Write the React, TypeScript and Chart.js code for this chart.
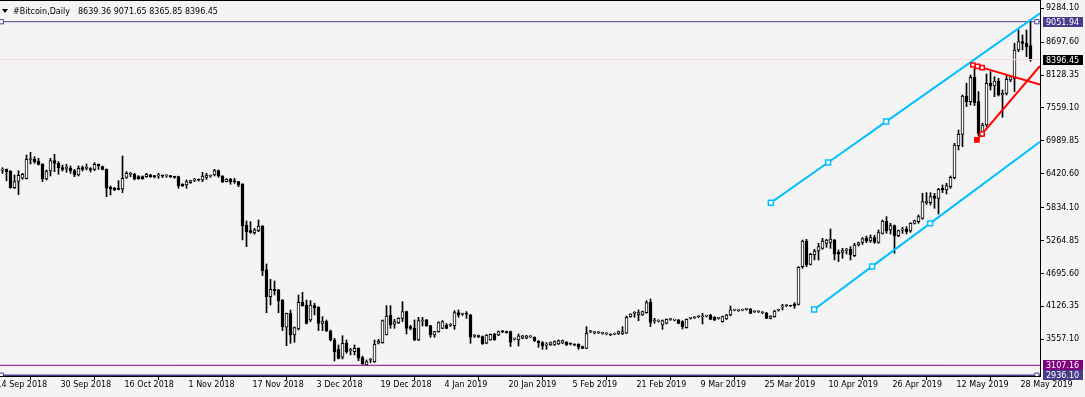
import React, { useEffect, useRef } from 'react';
import { Chart, registerables } from 'chart.js';

Chart.register(...registerables);

const FONT = "'DejaVu Sans', Verdana, sans-serif";
const FONT_SIZE = 8;

// ---- header ----
const symbolTitle = '#Bitcoin,Daily';
const lastOHLC = ['8639.36', '9071.65', '8365.85', '8396.45'];

// ---- daily candles, 14 Sep 2018 (index 0) .. 30 May 2019 (index 258) ----
const opens = [
  6470, 6485, 6498, 6469, 6181, 6290, 6345, 6335, 6668, 6677,
  6642, 6590, 6331, 6469, 6648, 6602, 6527, 6514, 6516, 6475,
  6400, 6527, 6514, 6510, 6498, 6585, 6544, 6498, 6187, 6170,
  6170, 6160, 6360, 6412, 6412, 6371, 6371, 6371, 6400, 6373,
  6385, 6385, 6385, 6373, 6362, 6371, 6239, 6227, 6267, 6312,
  6316, 6314, 6360, 6383, 6400, 6475, 6383, 6285, 6325, 6287,
  6285, 6244, 5535, 5437, 5403, 5437, 5518, 4757, 4295, 4422,
  4411, 4237, 3765, 4007, 3632, 3736, 4197, 4151, 3891, 4139,
  4111, 3834, 3863, 3701, 3545, 3384, 3246, 3488, 3361, 3344,
  3401, 3240, 3113, 3195, 3171, 3488, 3500, 3632, 3978, 3817,
  3846, 3920, 4036, 3776, 3747, 3546, 3878, 3892, 3794, 3632,
  3690, 3747, 3805, 3800, 3794, 4018, 3990, 3995, 3978, 3610,
  3605, 3603, 3488, 3546, 3649, 3632, 3690, 3690, 3690, 3560,
  3546, 3575, 3575, 3600, 3592, 3528, 3500, 3457, 3459, 3459,
  3476, 3488, 3505, 3478, 3462, 3471, 3430, 3401, 3688, 3672,
  3670, 3660, 3650, 3634, 3648, 3649, 3649, 3661, 3949, 4005,
  3978, 3978, 4018, 4197, 3878, 3872, 3805, 3834, 3900, 3890,
  3892, 3863, 3759, 3918, 3930, 3947, 3947, 3958, 3978, 3938,
  3918, 3863, 3909, 3978, 4062, 4053, 4063, 4074, 4082, 4034,
  4034, 4016, 4007, 3920, 3949, 4060, 4118, 4137, 4135, 4168,
  4162, 4814, 5258, 4854, 5016, 5085, 5131, 5218, 5235, 5275,
  5062, 5062, 5100, 5114, 5004, 5189, 5235, 5304, 5258, 5316,
  5235, 5391, 5604, 5448, 5523, 5350, 5446, 5466, 5431, 5564,
  5593, 5650, 5921, 5921, 6037, 5996, 6169, 6141, 6198, 6354,
  6902, 7104, 7767, 7669, 8090, 7669, 7121, 7265, 7986, 7940,
  8026, 7784, 7813, 8044, 8072, 8563, 8707, 8678, 8639.36,
];
const highs = [
  6540, 6527, 6505, 6475, 6400, 6475, 6429, 6746, 6792, 6717,
  6688, 6595, 6487, 6688, 6758, 6631, 6573, 6585, 6556, 6498,
  6556, 6556, 6590, 6527, 6614, 6590, 6556, 6505, 6210, 6187,
  6302, 6729, 6458, 6446, 6429, 6390, 6385, 6429, 6412, 6390,
  6429, 6400, 6405, 6390, 6380, 6380, 6250, 6314, 6310, 6342,
  6330, 6446, 6429, 6400, 6498, 6487, 6390, 6337, 6342, 6342,
  6290, 6250, 5604, 5593, 5477, 5622, 5525, 4860, 4595, 4566,
  4420, 4245, 4010, 4064, 3770, 4324, 4370, 4237, 4226, 4180,
  4122, 3949, 3891, 3718, 3574, 3459, 3620, 3545, 3401, 3459,
  3410, 3265, 3200, 3228, 3546, 3557, 3892, 4140, 4140, 3903,
  3930, 4209, 4045, 3800, 3892, 3938, 3938, 3900, 3800, 3695,
  3860, 3880, 3830, 3830, 4053, 4065, 4010, 4036, 3990, 3640,
  3630, 3615, 3640, 3650, 3660, 3700, 3710, 3700, 3700, 3580,
  3649, 3625, 3625, 3620, 3600, 3535, 3517, 3500, 3510, 3530,
  3545, 3545, 3520, 3495, 3480, 3480, 3440, 3776, 3710, 3690,
  3690, 3680, 3670, 3650, 3665, 3700, 3776, 3961, 4000, 4036,
  4065, 4045, 4226, 4255, 3920, 3895, 3892, 3910, 3920, 3905,
  3900, 3880, 3910, 3935, 3950, 3965, 4007, 3975, 3990, 3950,
  3935, 3960, 3990, 4134, 4080, 4070, 4080, 4090, 4090, 4050,
  4050, 4035, 4025, 3965, 4060, 4080, 4163, 4160, 4145, 4191,
  4815, 5275, 5287, 5045, 5114, 5218, 5304, 5287, 5466, 5287,
  5102, 5131, 5131, 5160, 5218, 5240, 5316, 5345, 5362, 5356,
  5448, 5622, 5679, 5564, 5535, 5448, 5494, 5506, 5575, 5620,
  5708, 6083, 6095, 6095, 6083, 6169, 6227, 6256, 6383, 6948,
  7178, 7784, 7986, 8130, 8245, 7842, 7294, 8147, 8188, 8101,
  8072, 7871, 8130, 8113, 8678, 8909, 8822, 8909, 9071.65,
];
const lows = [
  6400, 6429, 6302, 6170, 6165, 6060, 6325, 6330, 6590, 6602,
  6573, 6285, 6314, 6383, 6458, 6412, 6469, 6446, 6429, 6371,
  6383, 6469, 6487, 6452, 6475, 6498, 6487, 6025, 6054, 6129,
  6141, 6095, 6342, 6371, 6314, 6325, 6325, 6360, 6360, 6350,
  6342, 6355, 6360, 6355, 6345, 6170, 6200, 6170, 6255, 6285,
  6295, 6285, 6325, 6360, 6383, 6360, 6267, 6280, 6239, 6256,
  6198, 5276, 5160, 5391, 5374, 5420, 4659, 4018, 4151, 4324,
  4018, 3707, 3447, 3488, 3505, 3718, 4130, 3822, 3863, 3978,
  3707, 3707, 3690, 3528, 3182, 3217, 3217, 3315, 3286, 3286,
  3188, 3120, 3107.16, 3153, 3159, 3476, 3488, 3632, 3747, 3747,
  3830, 3863, 3649, 3720, 3534, 3534, 3788, 3780, 3592, 3592,
  3680, 3740, 3740, 3780, 3730, 3938, 3970, 3920, 3488, 3590,
  3585, 3470, 3480, 3540, 3540, 3620, 3670, 3665, 3430, 3545,
  3442, 3565, 3565, 3585, 3520, 3419, 3384, 3384, 3450, 3450,
  3465, 3480, 3450, 3460, 3445, 3384, 3395, 3395, 3670, 3650,
  3655, 3645, 3635, 3620, 3635, 3640, 3640, 3655, 3940, 3938,
  3880, 3970, 4007, 3776, 3834, 3855, 3730, 3825, 3885, 3875,
  3825, 3736, 3750, 3905, 3915, 3930, 3822, 3945, 3895, 3880,
  3905, 3855, 3900, 3961, 4050, 4040, 4050, 4060, 4000, 4020,
  4020, 4000, 3915, 3910, 3940, 4045, 4065, 4120, 4125, 4093,
  4150, 4785, 4814, 4843, 4929, 4929, 5114, 5149, 5131, 4929,
  4901, 4958, 5034, 4929, 4987, 5170, 5200, 5229, 5235, 5218,
  5218, 5379, 5391, 5379, 5045, 5333, 5391, 5379, 5408, 5550,
  5564, 5633, 5892, 5881, 5823, 5725, 6095, 6071, 6169, 6331,
  6833, 6890, 7582, 7611, 7600, 7075, 7063, 7236, 7871, 7755,
  7767, 7398, 7784, 8015, 7842, 8533, 8563, 8447, 8365.85,
];
const closes = [
  6490, 6490, 6458, 6181, 6285, 6395, 6410, 6671, 6672, 6631,
  6585, 6331, 6469, 6648, 6602, 6527, 6498, 6518, 6475, 6400,
  6516, 6498, 6518, 6487, 6585, 6556, 6498, 6170, 6158, 6147,
  6152, 6342, 6429, 6415, 6331, 6337, 6337, 6412, 6371, 6371,
  6389, 6381, 6389, 6371, 6360, 6210, 6210, 6285, 6302, 6316,
  6312, 6383, 6400, 6385, 6475, 6383, 6285, 6331, 6285, 6283,
  6227, 5518, 5420, 5408, 5449, 5518, 4745, 4295, 4422, 4393,
  4220, 3776, 4007, 3632, 3759, 4197, 4139, 3834, 4151, 4105,
  3834, 3874, 3701, 3545, 3344, 3228, 3488, 3344, 3363, 3401,
  3230, 3135, 3171, 3200, 3471, 3528, 3880, 3961, 3805, 3863,
  3920, 4036, 3747, 3747, 3546, 3880, 3882, 3794, 3632, 3690,
  3846, 3863, 3747, 3805, 4018, 3978, 3995, 3990, 3592, 3615,
  3603, 3476, 3632, 3644, 3546, 3690, 3688, 3672, 3505, 3563,
  3615, 3615, 3615, 3603, 3528, 3500, 3442, 3459, 3500, 3517,
  3534, 3534, 3459, 3476, 3459, 3419, 3401, 3661, 3692, 3674,
  3672, 3662, 3652, 3632, 3650, 3690, 3690, 3938, 3995, 4008,
  4018, 4036, 4192, 3851, 3882, 3876, 3880, 3903, 3905, 3894,
  3834, 3776, 3903, 3922, 3934, 3950, 3951, 3962, 3903, 3892,
  3922, 3949, 3978, 4065, 4066, 4056, 4066, 4078, 4007, 4037,
  4037, 4020, 3920, 3961, 4047, 4065, 4122, 4140, 4134, 4134,
  4802, 5258, 4843, 5028, 5085, 5160, 5258, 5275, 5293, 5028,
  5028, 5102, 5104, 5016, 5189, 5229, 5298, 5258, 5316, 5235,
  5402, 5604, 5431, 5523, 5345, 5437, 5450, 5420, 5564, 5610,
  5679, 5939, 5950, 6025, 5996, 6152, 6141, 6215, 6360, 6919,
  7104, 7767, 7669, 8090, 7651, 7121, 7265, 7986, 7940, 8026,
  7784, 7813, 8055, 8101, 8563, 8707, 8678, 8620, 8396.45,
];

// ---- axes ----
const xMin = 0.375;
const xMax = 260.375;
const xTickDays = [0, 16, 32, 48, 64, 80, 96, 112, 128, 144, 160, 176, 192, 208, 224, 240, 256];
const xTickLabels = [
  '14 Sep 2018', '30 Sep 2018', '16 Oct 2018', '1 Nov 2018', '17 Nov 2018', '3 Dec 2018',
  '19 Dec 2018', '4 Jan 2019', '20 Jan 2019', '5 Feb 2019', '21 Feb 2019', '9 Mar 2019',
  '25 Mar 2019', '10 Apr 2019', '26 Apr 2019', '12 May 2019', '28 May 2019',
];
const yMin = 2922.1;
const yMax = 9427.7;
const yTickValues = [9284.1, 8697.6, 8128.35, 7559.1, 6989.85, 6420.6, 5834.1, 5264.85, 4695.6, 4126.35, 3557.1];

// ---- drawn objects ----
const levelTop = 9051.94;
const levelBottom = 2936.1;
const levelSupport = 3107.16;
const bidPrice = 8396.45;
const levelMarkerDays = [0.7, 259.6];

const upperChannelDays = [193.1, 207.4, 221.9, 260.375];
const upperChannelPrices = [5921, 6617, 7324, 9197];
const lowerChannelDays = [203.9, 218.4, 232.9, 260.375];
const lowerChannelPrices = [4073, 4818, 5563, 6976];
const redFallDays = [243.6, 244.75, 245.9, 260.375];
const redFallPrices = [8303, 8280, 8257, 7966];
const redRiseDays = [244.6, 245.9, 260.375];
const redRisePrices = [7006, 7111, 8286];

const boxValues = [9051.94, 8396.45, 3107.16, 2936.1];
const boxColors = ['#483D8B', '#000000', '#800080', '#483D8B'];

const BG = '#F4F4F4';

export default function App() {
  const ref = useRef<HTMLCanvasElement>(null);

  useEffect(() => {
    const canvas = ref.current;
    if (!canvas) return;

    const wickData = closes.map((_, i) => ({ x: i, y: [lows[i], highs[i]] }));
    const bodyData = closes.map((c, i) => ({ x: i, y: [opens[i], c] }));
    const bodyColors = closes.map((c, i) => (c >= opens[i] ? '#FFFFFF' : '#000000'));
    const pts = (days: number[], prices: number[]) => days.map((d, k) => ({ x: d, y: prices[k] }));
    const flat = (value: number, markers: number[]) =>
      [xMin, ...markers, xMax].map((d) => ({ x: d, y: value }));
    const flatRadius = (markers: number[]) => [0, ...markers.map(() => 3), 0];

    const lineBase = {
      type: 'line' as const,
      tension: 0,
      fill: false,
      pointStyle: 'rect' as const,
      pointHoverRadius: 0,
    };

    const bgPlugin = {
      id: 'bg',
      beforeDraw(chart: any) {
        const ctx = chart.ctx;
        ctx.save();
        ctx.fillStyle = BG;
        ctx.fillRect(0, 0, chart.width, chart.height);
        ctx.restore();
      },
    };

    const overlayPlugin = {
      id: 'overlay',
      afterDraw(chart: any) {
        const ctx = chart.ctx;
        const ys = chart.scales.y;
        const area = chart.chartArea;
        ctx.save();
        ctx.fillStyle = '#000000';
        ctx.fillRect(0, 0, area.right, 1);
        // title
        ctx.beginPath();
        ctx.moveTo(2, 9);
        ctx.lineTo(8, 9);
        ctx.lineTo(5, 13);
        ctx.closePath();
        ctx.fill();
        ctx.font = `${FONT_SIZE}px ${FONT}`;
        ctx.textAlign = 'left';
        ctx.textBaseline = 'alphabetic';
        ctx.fillText(symbolTitle, 13, 14);
        ctx.fillText(lastOHLC.join(' '), 78, 14);
        // price boxes on the right axis
        ctx.textBaseline = 'middle';
        boxValues.forEach((v, k) => {
          const py = Math.round(ys.getPixelForValue(v));
          ctx.fillStyle = boxColors[k];
          ctx.fillRect(area.right + 3, py - 5, 40, 10);
          ctx.fillStyle = '#FFFFFF';
          ctx.fillText(v.toFixed(2), area.right + 6, py + 0.5);
        });
        ctx.restore();
      },
    };

    const chart = new Chart(canvas, {
      type: 'bar',
      data: {
        datasets: [
          {
            type: 'bar',
            data: wickData as any,
            backgroundColor: '#000000',
            borderWidth: 0,
            barThickness: 1,
            grouped: false,
            order: 10,
          } as any,
          {
            type: 'bar',
            data: bodyData as any,
            backgroundColor: bodyColors,
            borderColor: '#000000',
            borderWidth: 1,
            borderSkipped: false,
            barThickness: 3,
            minBarLength: 1,
            grouped: false,
            order: 9,
          } as any,
          {
            ...lineBase,
            data: flat(bidPrice, []),
            borderColor: '#F2DCD6',
            borderWidth: 1,
            pointRadius: 0,
            order: 8,
          },
          {
            ...lineBase,
            data: flat(levelSupport, []),
            borderColor: '#800080',
            borderWidth: 1,
            pointRadius: 0,
            order: 3,
          },
          {
            ...lineBase,
            data: flat(levelTop, levelMarkerDays),
            borderColor: '#483D8B',
            borderWidth: 1,
            pointRadius: flatRadius(levelMarkerDays),
            pointBackgroundColor: '#FFFFFF',
            pointBorderColor: '#483D8B',
            pointBorderWidth: 1,
            order: 3,
          },
          {
            ...lineBase,
            data: flat(levelBottom, levelMarkerDays),
            borderColor: '#483D8B',
            borderWidth: 1.5,
            pointRadius: flatRadius(levelMarkerDays),
            pointBackgroundColor: '#FFFFFF',
            pointBorderColor: '#483D8B',
            pointBorderWidth: 1,
            order: 3,
          },
          {
            ...lineBase,
            data: pts(upperChannelDays, upperChannelPrices),
            borderColor: '#00BFFF',
            borderWidth: 2,
            pointRadius: [3.5, 3.5, 3.5, 0],
            pointBackgroundColor: '#FFFFFF',
            pointBorderColor: '#00BFFF',
            pointBorderWidth: 1.5,
            order: 2,
          },
          {
            ...lineBase,
            data: pts(lowerChannelDays, lowerChannelPrices),
            borderColor: '#00BFFF',
            borderWidth: 2,
            pointRadius: [3.5, 3.5, 3.5, 0],
            pointBackgroundColor: '#FFFFFF',
            pointBorderColor: '#00BFFF',
            pointBorderWidth: 1.5,
            order: 2,
          },
          {
            ...lineBase,
            data: pts(redFallDays, redFallPrices),
            borderColor: '#FF0000',
            borderWidth: 2,
            pointRadius: [3, 3, 3, 0],
            pointBackgroundColor: '#FFFFFF',
            pointBorderColor: '#FF0000',
            pointBorderWidth: 1.5,
            order: 1,
          },
          {
            ...lineBase,
            data: pts(redRiseDays, redRisePrices),
            borderColor: '#FF0000',
            borderWidth: 2,
            pointRadius: [3, 3, 0],
            pointBackgroundColor: ['#FF0000', '#FFFFFF', '#FFFFFF'],
            pointBorderColor: '#FF0000',
            pointBorderWidth: 1.5,
            order: 1,
          },
        ] as any,
      },
      options: {
        responsive: false,
        maintainAspectRatio: false,
        animation: false,
        devicePixelRatio: 1,
        events: [],
        layout: { padding: 0, autoPadding: false },
        plugins: {
          legend: { display: false },
          tooltip: { enabled: false },
          title: { display: false },
        },
        scales: {
          x: {
            type: 'linear',
            min: xMin,
            max: xMax,
            offset: false,
            grid: {
              display: true,
              drawOnChartArea: false,
              drawTicks: true,
              tickLength: 4,
              color: '#000000',
              lineWidth: 1,
            },
            border: { display: true, color: '#000000', width: 1 },
            ticks: {
              autoSkip: false,
              maxRotation: 0,
              minRotation: 0,
              align: 'start',
              padding: 0,
              labelOffset: -2,
              color: '#000000',
              font: { family: FONT, size: FONT_SIZE },
              callback: (_v: any, i: number) => xTickLabels[i] ?? '',
            },
            afterBuildTicks: (s: any) => {
              s.ticks = xTickDays.map((v) => ({ value: v }));
            },
            afterFit: (s: any) => {
              s.height = 21;
              s.paddingLeft = 0;
              s.paddingRight = 0;
              s.paddingTop = 0;
              s.paddingBottom = 0;
            },
          },
          y: {
            type: 'linear',
            position: 'right',
            min: yMin,
            max: yMax,
            grid: {
              display: true,
              drawOnChartArea: false,
              drawTicks: true,
              tickLength: 4,
              color: '#000000',
              lineWidth: 1,
            },
            border: { display: true, color: '#000000', width: 1 },
            ticks: {
              padding: 2,
              color: '#000000',
              font: { family: FONT, size: FONT_SIZE },
              callback: (v: any) => Number(v).toFixed(2),
            },
            afterBuildTicks: (s: any) => {
              s.ticks = yTickValues.map((v) => ({ value: v }));
            },
            afterFit: (s: any) => {
              s.width = 45;
              s.paddingLeft = 0;
              s.paddingRight = 0;
              s.paddingTop = 0;
              s.paddingBottom = 0;
            },
          },
        },
      } as any,
      plugins: [bgPlugin, overlayPlugin],
    });

    return () => chart.destroy();
  }, []);

  return (
    <div style={{ position: 'fixed', left: 0, top: 0, width: 1085, height: 397, background: BG }}>
      <canvas ref={ref} width={1085} height={397} style={{ display: 'block', width: 1085, height: 397 }} />
    </div>
  );
}
